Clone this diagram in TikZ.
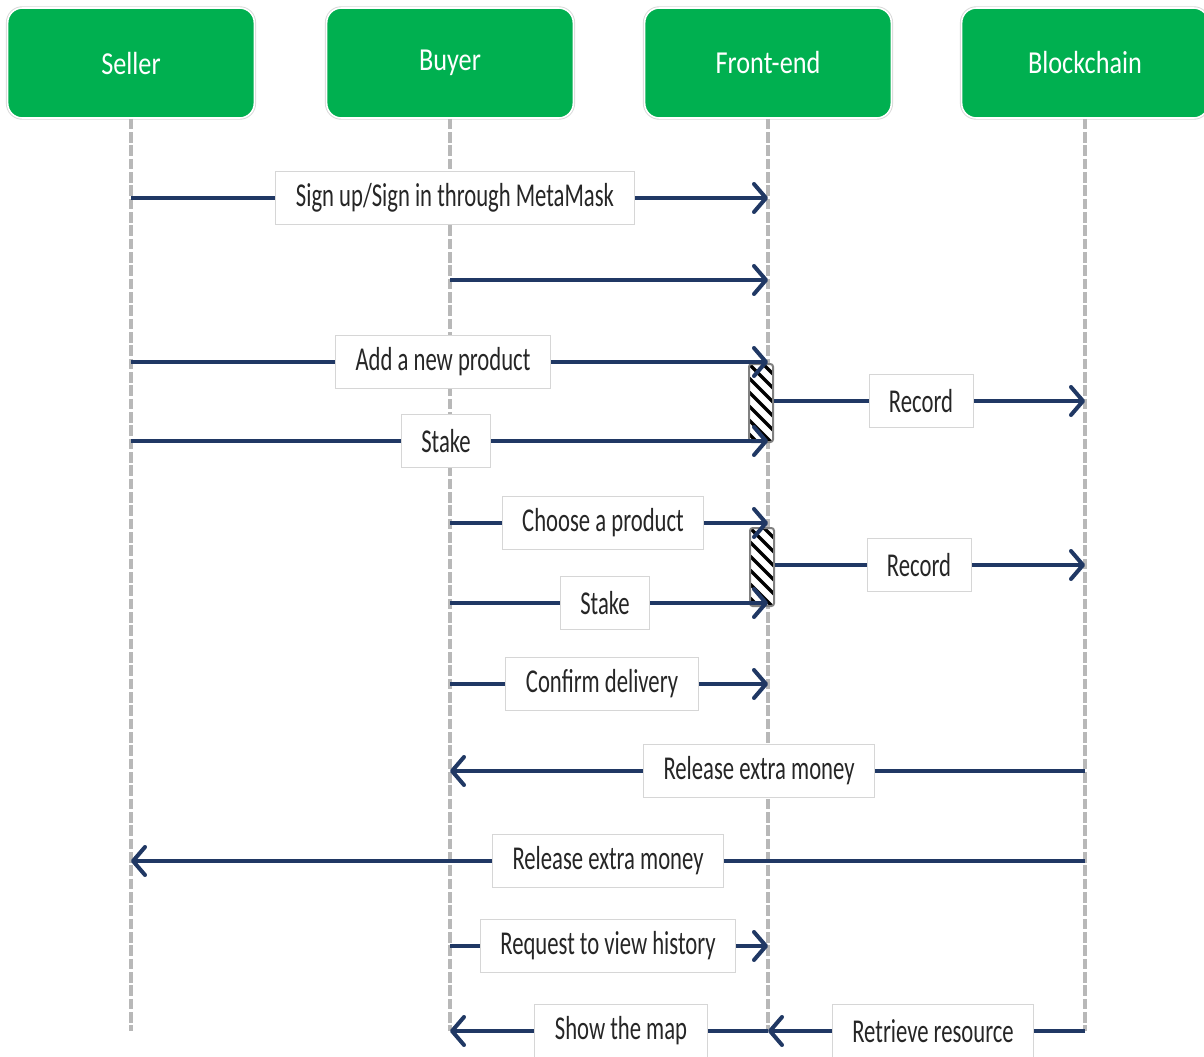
\documentclass[tikz,border=0pt]{standalone}
\usepackage{fontspec}
\setmainfont{Carlito}
\newfontfamily\hdrfont[FakeStretch=0.82]{Carlito}
\newfontfamily\lblfont[FakeStretch=0.68]{Carlito}
\usetikzlibrary{arrows.meta,calc}
\definecolor{hdrgreen}{HTML}{00B050}
\definecolor{msgblue}{HTML}{203864}
\definecolor{lifegray}{HTML}{B8B8B8}
\definecolor{boxgray}{HTML}{D6D6D6}
\begin{document}
\begin{tikzpicture}[x=0.75pt,y=-0.75pt,
  actor/.style={rectangle,rounded corners=11pt,fill=hdrgreen,draw=white,line width=1.2pt,
    preaction={draw=black!15,line width=2.6pt},minimum width=185pt,minimum height=82.5pt,
    text=white,font=\hdrfont\fontsize{24}{28}\selectfont},
  lifeline/.style={draw=lifegray,line width=2.5pt,dash pattern=on 8pt off 2pt},
  msg/.style={draw=msgblue,line width=3pt,-{Straight Barb[length=9pt,width=21pt,round]}},
  lbl/.style={rectangle,fill=white,draw=boxgray,line width=0.7pt,inner xsep=15pt,
    minimum height=40pt,text=black!85,font=\lblfont\fontsize{25}{29}\selectfont},
  activ/.style={rectangle,rounded corners=2pt,draw=gray,line width=1.5pt,fill=white,
    minimum width=18pt,minimum height=58.5pt,
    path picture={\foreach \d in {-42,-28,...,98}
      \draw[black,line width=2.4pt] ($(path picture bounding box.north west)+(0,\d)$) -- ++(40,40);}}]
\useasboundingbox (0,0) rectangle (1204,1057);

% participants
\node[actor] (seller) at (131,63) {Seller};
\node[actor] (buyer) at (450,63) {Buyer};
\node[actor] (front) at (768,63) {Front-end};
\node[actor] (chain) at (1085,63) {Blockchain};

\coordinate (bot) at (0,1031);
\foreach \a in {seller,buyer,front,chain}
  \draw[lifeline] (\a.south) -- (\a |- bot);

\node[activ] (act1) at (761,403) {};
\node[activ] (act2) at (762,567) {};

% message heights
\coordinate (m1) at (455,198);
\coordinate (m2) at (600,280);
\coordinate (m3) at (443,362);
\coordinate (m4) at (446,441);
\coordinate (r1) at (921,401);
\coordinate (m6) at (603,523);
\coordinate (m7) at (605,603);
\coordinate (r2) at (919,565);
\coordinate (m9) at (602,684);
\coordinate (m10) at (759,771);
\coordinate (m11) at (608,861);
\coordinate (m12) at (608,946);
\coordinate (m13) at (621,1031);
\coordinate (m14) at (933,1031);

\draw[msg] (seller |- m1) -- (front |- m1);
\draw[msg] (buyer |- m2) -- (front |- m2);
\draw[msg] (seller |- m3) -- (front |- m3);
\draw[msg] (seller |- m4) -- (front |- m4);
\draw[msg] (act1.east |- r1) -- (chain |- r1);
\draw[msg] (buyer |- m6) -- (front |- m6);
\draw[msg] (buyer |- m7) -- (front |- m7);
\draw[msg] (act2.east |- r2) -- (chain |- r2);
\draw[msg] (buyer |- m9) -- (front |- m9);
\draw[msg] (chain |- m10) -- (buyer |- m10);
\draw[msg] (chain |- m11) -- (seller |- m11);
\draw[msg] (buyer |- m12) -- (front |- m12);
\draw[msg] (front |- m13) -- (buyer |- m13);
\draw[msg] (chain |- m14) -- (front |- m14);

\node[lbl] (l1) at (m1) {Sign up/Sign in through MetaMask};
\node[lbl] (l3) at (m3) {Add a new product};
\node[lbl] (l4) at (m4) {Stake};
\node[lbl] (lr1) at (r1) {Record};
\node[lbl] (l6) at (m6) {Choose a product};
\node[lbl] (l7) at (m7) {Stake};
\node[lbl] (lr2) at (r2) {Record};
\node[lbl] (l9) at (m9) {Confirm delivery};
\node[lbl] (l10) at (m10) {Release extra money};
\node[lbl] (l11) at (m11) {Release extra money};
\node[lbl] (l12) at (m12) {Request to view history};
\node[lbl] (l13) at (m13) {Show the map};
\node[lbl] (l14) at (m14) {Retrieve resource};
\end{tikzpicture}
\end{document}
